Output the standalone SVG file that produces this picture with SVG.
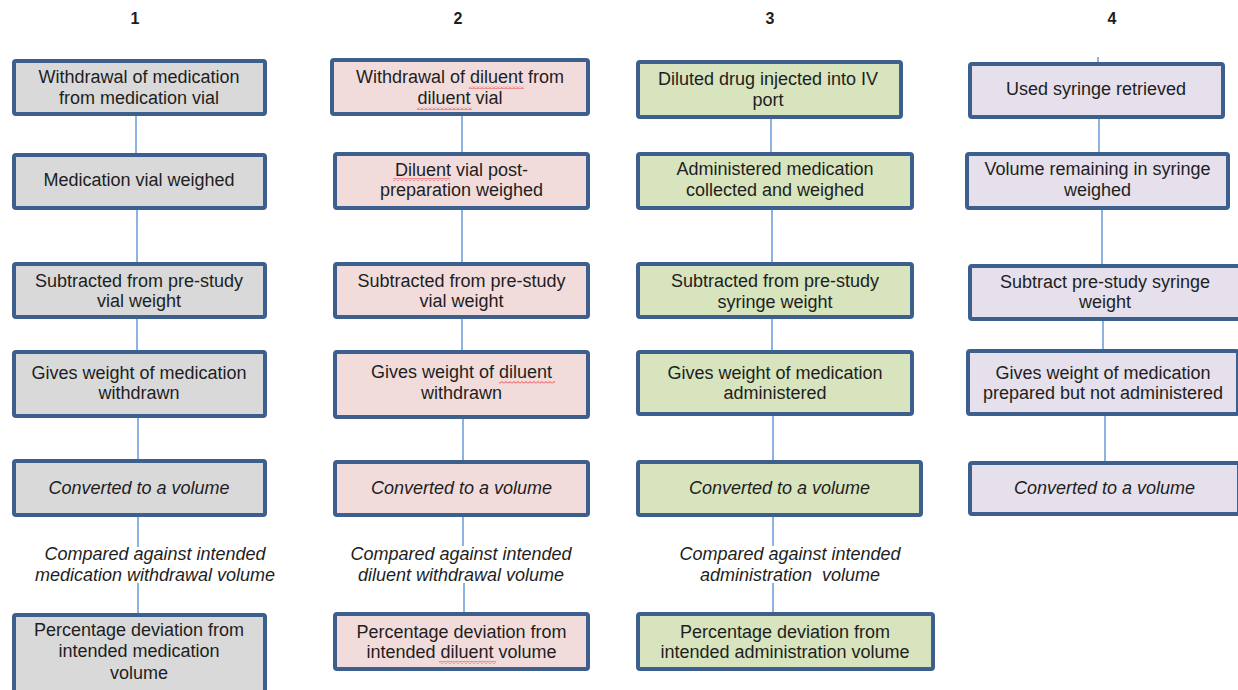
<svg xmlns="http://www.w3.org/2000/svg" width="1238" height="690" viewBox="0 0 1238 690">
<defs>
<style>
.box{stroke:#3c5f8d;stroke-width:4;}
.c1{fill:#d9d9d9;}
.c2{fill:#f2dcdb;}
.c3{fill:#d7e4bd;}
.c4{fill:#e5e0ec;}
text{font-family:"Liberation Sans",Arial,sans-serif;font-size:18px;fill:#1e1e1e;text-anchor:middle;}
.it{font-style:italic;}
.hd{font-weight:bold;font-size:16px;}
.ln{stroke:#8db3e2;stroke-width:2;fill:none;}
</style>
<pattern id="squiggle" patternUnits="userSpaceOnUse" width="4" height="3">
<path d="M0,2.5 L2,0.5 L4,2.5" stroke="#e83030" stroke-width="0.9" fill="none"/>
</pattern>
</defs>
<rect width="1238" height="690" fill="#ffffff"/>
<g id="headers">
<text class="hd" x="135" y="24">1</text>
<text class="hd" x="458" y="24">2</text>
<text class="hd" x="770" y="24">3</text>
<text class="hd" x="1112" y="24">4</text>
</g>
<g id="connectors">
<line class="ln" x1="136" y1="116" x2="136" y2="153"/>
<line class="ln" x1="137" y1="210" x2="137" y2="262"/>
<line class="ln" x1="137" y1="319" x2="137" y2="350"/>
<line class="ln" x1="138" y1="418" x2="138" y2="459"/>
<line class="ln" x1="138" y1="517" x2="138" y2="547"/>
<line class="ln" x1="138" y1="583" x2="138" y2="613"/>
<line class="ln" x1="462" y1="116" x2="462" y2="152"/>
<line class="ln" x1="462" y1="210" x2="462" y2="262"/>
<line class="ln" x1="462" y1="319" x2="462" y2="350"/>
<line class="ln" x1="463" y1="419" x2="463" y2="460"/>
<line class="ln" x1="463" y1="517" x2="463" y2="546"/>
<line class="ln" x1="464" y1="583" x2="464" y2="612"/>
<line class="ln" x1="771" y1="119" x2="771" y2="152"/>
<line class="ln" x1="772" y1="210" x2="772" y2="262"/>
<line class="ln" x1="772" y1="319" x2="772" y2="350"/>
<line class="ln" x1="773" y1="416" x2="773" y2="460"/>
<line class="ln" x1="773" y1="517" x2="773" y2="546"/>
<line class="ln" x1="773" y1="583" x2="773" y2="612"/>
<line class="ln" x1="1098" y1="57" x2="1098" y2="62"/>
<line class="ln" x1="1099" y1="119" x2="1099" y2="152"/>
<line class="ln" x1="1102" y1="210" x2="1102" y2="264"/>
<line class="ln" x1="1103" y1="321" x2="1103" y2="349"/>
<line class="ln" x1="1105" y1="416" x2="1105" y2="461"/>
</g>
<g id="labels">
<text class="it" x="155" y="560">Compared against intended</text>
<text class="it" x="155" y="581">medication withdrawal volume</text>
<text class="it" x="461" y="560">Compared against intended</text>
<text class="it" x="461" y="581">diluent withdrawal volume</text>
<text class="it" x="790" y="560">Compared against intended</text>
<text class="it" x="790" y="581" xml:space="preserve" style="white-space:pre">administration  volume</text>
</g>
<g id="n1_1"><rect class="box c1" x="14" y="61" width="251" height="53" rx="2"/>
<text x="139" y="83">Withdrawal of medication</text><text x="139" y="104">from medication vial</text></g>
<g id="n1_2"><rect class="box c1" x="14" y="155" width="251" height="53" rx="2"/>
<text x="139" y="186">Medication vial weighed</text></g>
<g id="n1_3"><rect class="box c1" x="14" y="264" width="251" height="53" rx="2"/>
<text x="139" y="287">Subtracted from pre-study</text><text x="139" y="307">vial weight</text></g>
<g id="n1_4"><rect class="box c1" x="14" y="352" width="251" height="64" rx="2"/>
<text x="139" y="379">Gives weight of medication</text><text x="139" y="399">withdrawn</text></g>
<g id="n1_5"><rect class="box c1" x="14" y="461" width="251" height="54" rx="2"/>
<text class="it" x="139" y="494">Converted to a volume</text></g>
<g id="n1_6"><rect class="box c1" x="14" y="615" width="251" height="90" rx="2"/>
<text x="139" y="636">Percentage deviation from</text><text x="139" y="657">intended medication</text><text x="139" y="679">volume</text></g>

<g id="n2_1"><rect class="box c2" x="332" y="60" width="256" height="54" rx="2"/>
<text x="460" y="83">Withdrawal of diluent from</text><text x="460" y="104">diluent vial</text></g>
<g id="n2_2"><rect class="box c2" x="335" y="154" width="253" height="54" rx="2"/>
<text x="461.5" y="176">Diluent vial post-</text><text x="461.5" y="196">preparation weighed</text></g>
<g id="n2_3"><rect class="box c2" x="335" y="264" width="253" height="53" rx="2"/>
<text x="461.5" y="287">Subtracted from pre-study</text><text x="461.5" y="307">vial weight</text></g>
<g id="n2_4"><rect class="box c2" x="335" y="352" width="253" height="65" rx="2"/>
<text x="461.5" y="378">Gives weight of diluent</text><text x="461.5" y="399">withdrawn</text></g>
<g id="n2_5"><rect class="box c2" x="335" y="462" width="253" height="53" rx="2"/>
<text class="it" x="461.5" y="494">Converted to a volume</text></g>
<g id="n2_6"><rect class="box c2" x="335" y="614" width="253" height="55" rx="2"/>
<text x="461.5" y="638">Percentage deviation from</text><text x="461.5" y="658">intended diluent volume</text></g>

<g id="n3_1"><rect class="box c3" x="638" y="62" width="263" height="55" rx="2"/>
<text x="768" y="85">Diluted drug injected into IV</text><text x="768" y="106">port</text></g>
<g id="n3_2"><rect class="box c3" x="638" y="154" width="274" height="54" rx="2"/>
<text x="775" y="175">Administered medication</text><text x="775" y="196">collected and weighed</text></g>
<g id="n3_3"><rect class="box c3" x="638" y="264" width="274" height="53" rx="2"/>
<text x="775" y="287">Subtracted from pre-study</text><text x="775" y="308">syringe weight</text></g>
<g id="n3_4"><rect class="box c3" x="638" y="352" width="274" height="62" rx="2"/>
<text x="775" y="379">Gives weight of medication</text><text x="775" y="399">administered</text></g>
<g id="n3_5"><rect class="box c3" x="638" y="462" width="283" height="53" rx="2"/>
<text class="it" x="779.5" y="494">Converted to a volume</text></g>
<g id="n3_6"><rect class="box c3" x="638" y="614" width="295" height="55" rx="2"/>
<text x="785" y="638">Percentage deviation from</text><text x="785" y="658">intended administration volume</text></g>

<g id="n4_1"><rect class="box c4" x="970" y="64" width="253" height="53" rx="2"/>
<text x="1096" y="95">Used syringe retrieved</text></g>
<g id="n4_2"><rect class="box c4" x="967" y="154" width="261" height="54" rx="2"/>
<text x="1097.5" y="175">Volume remaining in syringe</text><text x="1097.5" y="196">weighed</text></g>
<g id="n4_3"><rect class="box c4" x="970" y="266" width="270" height="53" rx="2"/>
<text x="1105" y="288">Subtract pre-study syringe</text><text x="1105" y="308">weight</text></g>
<g id="n4_4"><rect class="box c4" x="968" y="351" width="270" height="63" rx="2"/>
<text x="1103" y="379">Gives weight of medication</text><text x="1103" y="399">prepared but not administered</text></g>
<g id="n4_5"><rect class="box c4" x="970" y="463" width="269" height="51" rx="2"/>
<text class="it" x="1104.5" y="494">Converted to a volume</text></g>

<g id="spellmarks">
<rect x="469" y="86" width="55" height="3" fill="url(#squiggle)"/>
<rect x="417" y="107" width="55" height="3" fill="url(#squiggle)"/>
<rect x="393" y="178" width="57" height="3" fill="url(#squiggle)"/>
<rect x="499" y="381" width="56" height="3" fill="url(#squiggle)"/>
<rect x="439" y="661" width="57" height="3" fill="url(#squiggle)"/>
</g>
</svg>
